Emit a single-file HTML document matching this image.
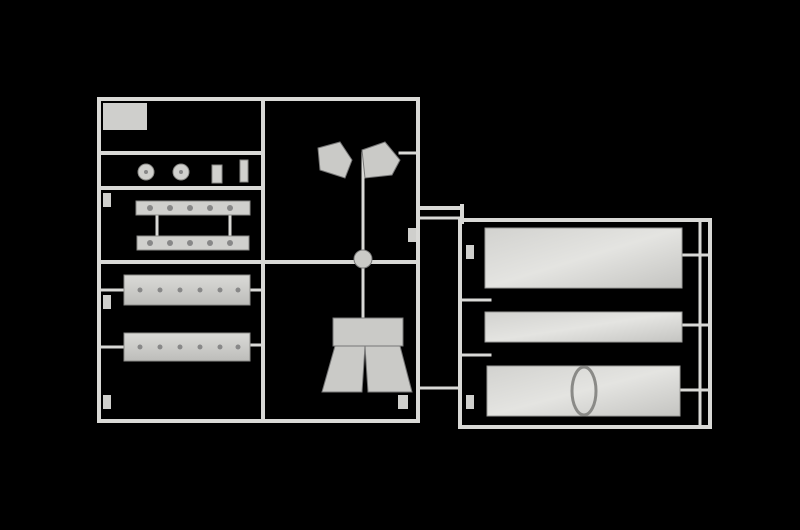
<!DOCTYPE html>
<html><head><style>html,body{margin:0;padding:0;background:#000;}svg{display:block}</style></head>
<body>
<svg width="800" height="530" viewBox="0 0 800 530" xmlns="http://www.w3.org/2000/svg">
<defs>
<linearGradient id="pg" x1="0" y1="0" x2="1" y2="1">
<stop offset="0" stop-color="#d2d2cf"/><stop offset="0.5" stop-color="#e4e4e1"/><stop offset="1" stop-color="#c4c4c1"/>
</linearGradient>
<linearGradient id="bg" x1="0" y1="0" x2="0" y2="1">
<stop offset="0" stop-color="#dadad7"/><stop offset="1" stop-color="#bdbdba"/>
</linearGradient>
</defs>
<rect width="800" height="530" fill="#000"/>
<g stroke="#d9d9d6" stroke-width="4" fill="none" stroke-linecap="square">
<rect x="99" y="99" width="319" height="322"/>
<line x1="263" y1="99" x2="263" y2="421"/>
<line x1="99" y1="262" x2="418" y2="262"/>
<line x1="99" y1="153" x2="263" y2="153"/>
<line x1="99" y1="188" x2="263" y2="188"/>
<line x1="363" y1="153" x2="363" y2="340" stroke-width="3"/>
<line x1="400" y1="153" x2="418" y2="153" stroke-width="3"/>
<line x1="157" y1="216" x2="157" y2="236" stroke-width="3"/>
<line x1="230" y1="216" x2="230" y2="236" stroke-width="3"/>
<line x1="101" y1="290" x2="124" y2="290" stroke-width="3"/>
<line x1="250" y1="290" x2="262" y2="290" stroke-width="3"/>
<line x1="101" y1="347" x2="124" y2="347" stroke-width="3"/>
<line x1="250" y1="345" x2="262" y2="345" stroke-width="3"/>
<line x1="418" y1="208" x2="462" y2="208"/>
<line x1="418" y1="218" x2="462" y2="218" stroke-width="3"/>
<line x1="462" y1="206" x2="462" y2="222"/>
<line x1="418" y1="388" x2="460" y2="388" stroke-width="3"/>
<rect x="460" y="220" width="250" height="207"/>
<line x1="700" y1="220" x2="700" y2="427" stroke-width="3"/>
<line x1="460" y1="300" x2="490" y2="300" stroke-width="3"/>
<line x1="460" y1="355" x2="490" y2="355" stroke-width="3"/>
<line x1="680" y1="255" x2="710" y2="255" stroke-width="3"/>
<line x1="680" y1="325" x2="710" y2="325" stroke-width="3"/>
<line x1="680" y1="390" x2="710" y2="390" stroke-width="3"/>
</g>
<g fill="#cfcfcc">
<rect x="103" y="103" width="44" height="27"/>
<rect x="103" y="193" width="8" height="14"/>
<rect x="103" y="295" width="8" height="14"/>
<rect x="103" y="395" width="8" height="14"/>
<rect x="466" y="395" width="8" height="14"/>
<rect x="466" y="245" width="8" height="14"/>
<rect x="398" y="395" width="10" height="14"/>
<rect x="408" y="228" width="8" height="14"/>
</g>
<g fill="#d0d0cd" stroke="#8a8a87" stroke-width="1">
<circle cx="146" cy="172" r="8"/><circle cx="181" cy="172" r="8"/>
<rect x="212" y="165" width="10" height="18"/><rect x="240" y="160" width="8" height="22"/>
<rect x="136" y="201" width="114" height="14"/>
<rect x="137" y="236" width="112" height="14"/>
<rect x="124" y="275" width="126" height="30" fill="url(#bg)"/>
<rect x="124" y="333" width="126" height="28" fill="url(#bg)"/>
</g>
<g fill="#888">
<circle cx="146" cy="172" r="2"/><circle cx="181" cy="172" r="2"/>
<circle cx="150" cy="208" r="3"/><circle cx="170" cy="208" r="3"/><circle cx="190" cy="208" r="3"/><circle cx="210" cy="208" r="3"/><circle cx="230" cy="208" r="3"/>
<circle cx="150" cy="243" r="3"/><circle cx="170" cy="243" r="3"/><circle cx="190" cy="243" r="3"/><circle cx="210" cy="243" r="3"/><circle cx="230" cy="243" r="3"/>
<circle cx="140" cy="290" r="2.5"/><circle cx="160" cy="290" r="2.5"/><circle cx="180" cy="290" r="2.5"/><circle cx="200" cy="290" r="2.5"/><circle cx="220" cy="290" r="2.5"/><circle cx="238" cy="290" r="2.5"/>
<circle cx="140" cy="347" r="2.5"/><circle cx="160" cy="347" r="2.5"/><circle cx="180" cy="347" r="2.5"/><circle cx="200" cy="347" r="2.5"/><circle cx="220" cy="347" r="2.5"/><circle cx="238" cy="347" r="2.5"/>
</g>
<g fill="#cacac7" stroke="#777" stroke-width="1">
<polygon points="318,148 340,142 352,160 345,178 320,170"/>
<polygon points="362,150 385,142 400,160 392,175 365,178"/>
<circle cx="363" cy="259" r="9"/>
<rect x="333" y="318" width="70" height="28"/>
<polygon points="335,346 365,346 362,392 322,392"/>
<polygon points="365,346 400,346 412,392 368,392"/>
</g>
<g stroke="#9a9a97" stroke-width="1">
<rect x="485" y="228" width="197" height="60" fill="url(#pg)"/>
<rect x="485" y="312" width="197" height="30" fill="url(#pg)"/>
<rect x="487" y="366" width="193" height="50" fill="url(#pg)"/>
</g>
<ellipse cx="584" cy="391" rx="12" ry="24" fill="none" stroke="#8a8a87" stroke-width="3"/>
</svg>
</body></html>
